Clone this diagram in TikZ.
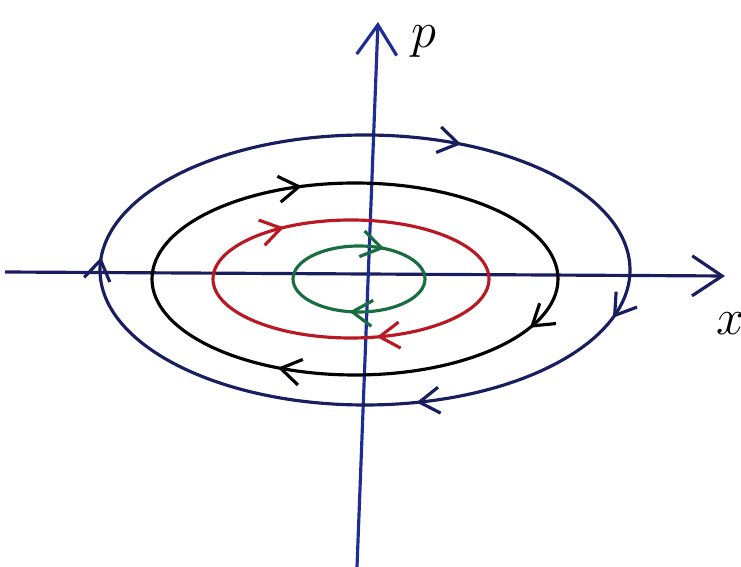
\documentclass[tikz,border=0pt]{standalone}
\usepackage{amsmath}
\usetikzlibrary{arrows.meta,positioning,decorations.markings}
\definecolor{orbitnavy}{RGB}{25,30,95}
\definecolor{orbitred}{RGB}{185,25,35}
\definecolor{orbitgreen}{RGB}{25,110,65}
\definecolor{axisblue}{RGB}{30,45,150}

\begin{document}
\begin{tikzpicture}[
    x=0.01cm, y=-0.01cm,
    orbit/.style={line width=0.9pt},
    axis/.style={line width=0.9pt, -{Straight Barb[length=3mm, width=4mm]}},
    flow/.style={postaction={decorate, decoration={markings,
        mark=at position #1 with {\arrow{Straight Barb[length=2mm, width=2.6mm]}}}}},
    lbl/.style={font=\Large, inner sep=1pt}
]
\useasboundingbox (0,0) rectangle (741,567);

% axes
\coordinate (xl) at (5,272);
\coordinate (xr) at (725,276);
\coordinate (pb) at (357,567);
\coordinate (pt) at (378,22);
\draw[axis, orbitnavy] (xl) -- (xr);
\draw[axis, axisblue] (pb) -- (pt);
\node[lbl] (xlab) at (731,324) {$x$};
\node[lbl] (plab) at (424,42) {$p$};

% orbits, run clockwise from the right end
\draw[orbit, orbitnavy, flow=0.04, flow=0.21, flow=0.51, flow=0.825]
    (630,270) arc[start angle=0, end angle=360, x radius=265, y radius=135];
\draw[orbit, black, flow=0.06, flow=0.33, flow=0.695]
    (558,279) arc[start angle=0, end angle=360, x radius=203, y radius=96];
\draw[orbit, orbitred, flow=0.21, flow=0.645]
    (489,279) arc[start angle=0, end angle=360, x radius=138, y radius=59];
\draw[orbit, orbitgreen, flow=0.28, flow=0.83]
    (425,279) arc[start angle=0, end angle=360, x radius=66, y radius=33];
\end{tikzpicture}
\end{document}
